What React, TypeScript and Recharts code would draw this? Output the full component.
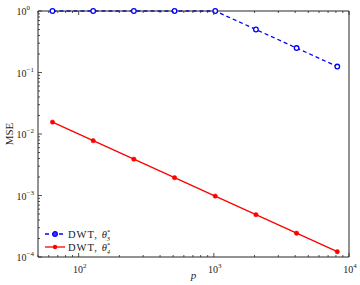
import React from "react";
import { LineChart, Line, XAxis, YAxis, Legend, Label } from "recharts";

const pValues = [64, 128, 256, 512, 1024, 2048, 4096, 8192];
const mseTheta3 = [1, 1, 1, 1, 1, 0.5, 0.25, 0.125];
const mseTheta4 = [0.0156, 0.0078, 0.0039, 0.00195, 0.000977, 0.000488, 0.000244, 0.000122];

const xMajorTicks = [100, 1000, 10000];
const xMinorTicks = [50, 60, 70, 80, 90, 200, 300, 400, 500, 600, 700, 800, 900, 2000, 3000, 4000, 5000, 6000, 7000, 8000, 9000];
const yMajorTicks = [0.0001, 0.001, 0.01, 0.1, 1];
const yMinorTicks = [
  0.0002, 0.0003, 0.0004, 0.0005, 0.0006, 0.0007, 0.0008, 0.0009,
  0.002, 0.003, 0.004, 0.005, 0.006, 0.007, 0.008, 0.009,
  0.02, 0.03, 0.04, 0.05, 0.06, 0.07, 0.08, 0.09,
  0.2, 0.3, 0.4, 0.5, 0.6, 0.7, 0.8, 0.9,
];

const data = pValues.map((p, i) => ({ p, theta3: mseTheta3[i], theta4: mseTheta4[i] }));

const FONT = "'Liberation Serif', 'DejaVu Serif', serif";
const AXIS = "#262626";
const BLUE = "#0000ff";
const RED = "#ff0000";

const allX = [...xMajorTicks, ...xMinorTicks].sort((a, b) => a - b);
const allY = [...yMajorTicks, ...yMinorTicks].sort((a, b) => a - b);

const expOf = (v: number) => Math.round(Math.log10(v));
const isMajor = (v: number) => Math.abs(Math.log10(v) - expOf(v)) < 1e-6;
const expText = (v: number) => {
  const e = expOf(v);
  return e < 0 ? "\u2212" + Math.abs(e) : String(e);
};

const MAJ = 4;
const MIN = 2;

const BottomTick = (props: any) => {
  const { x, y, payload } = props;
  const v = payload.value;
  const major = isMajor(v);
  return (
    <g>
      <line x1={x} y1={y} x2={x} y2={y - (major ? MAJ : MIN)} stroke={AXIS} strokeWidth={0.8} />
      {major && (
        <text x={x + 1} y={y + 16} textAnchor="middle" fontFamily={FONT} fontSize={10} fill="#222">
          10
          <tspan dy={-5} fontSize={7}>{expText(v)}</tspan>
        </text>
      )}
    </g>
  );
};

const TopTick = (props: any) => {
  const { x, y, payload } = props;
  const major = isMajor(payload.value);
  return <line x1={x} y1={y} x2={x} y2={y + (major ? MAJ : MIN)} stroke={AXIS} strokeWidth={0.8} />;
};

const LeftTick = (props: any) => {
  const { x, y, payload } = props;
  const v = payload.value;
  const major = isMajor(v);
  return (
    <g>
      <line x1={x} y1={y} x2={x + (major ? MAJ : MIN)} y2={y} stroke={AXIS} strokeWidth={0.8} />
      {major && (
        <text x={x - 21.5} y={y + 4} textAnchor="start" fontFamily={FONT} fontSize={10} fill="#222">
          10
          <tspan dy={-5} fontSize={7}>{expText(v)}</tspan>
        </text>
      )}
    </g>
  );
};

const RightTick = (props: any) => {
  const { x, y, payload } = props;
  const major = isMajor(payload.value);
  return <line x1={x} y1={y} x2={x - (major ? MAJ : MIN)} y2={y} stroke={AXIS} strokeWidth={0.8} />;
};

const seriesCfg: Record<string, { sub: string; dashed: boolean; color: string }> = {
  theta3: { sub: "3", dashed: true, color: BLUE },
  theta4: { sub: "4", dashed: false, color: RED },
};

const renderLegend = (props: any) => {
  const payload = props.payload || [];
  return (
    <svg width={90} height={28} style={{ display: "block" }}>
      {payload.map((entry: any, i: number) => {
        const cfg = seriesCfg[entry.dataKey] || seriesCfg.theta3;
        const cy = 6 + i * 13;
        return (
          <g key={i}>
            <line x1={1} y1={cy} x2={21} y2={cy} stroke={cfg.color} strokeWidth={1.3} strokeDasharray={cfg.dashed ? "4 3" : undefined} />
            {cfg.dashed ? (
              <circle cx={11} cy={cy} r={2.3} fill="#3b3bff" stroke={cfg.color} strokeWidth={1.3} />
            ) : (
              <circle cx={11} cy={cy} r={2.2} fill={cfg.color} />
            )}
            <text x={24} y={cy + 3.5} fontFamily={FONT} fontSize={10.5} fill="#222" letterSpacing={1}>
              DWT,
              <tspan dx={4} fontStyle="italic" letterSpacing={0}>θ</tspan>
              <tspan dy={-4} fontSize={6.5} letterSpacing={0}>*</tspan>
              <tspan dx={-3.5} dy={7} fontSize={6.5} fontStyle="italic" letterSpacing={0}>{cfg.sub}</tspan>
            </text>
          </g>
        );
      })}
    </svg>
  );
};

export default function App() {
  return (
    <div style={{ position: "absolute", left: 0, top: 0, width: 360, height: 285, background: "#fff" }}>
      <LineChart width={360} height={285} data={data} margin={{ top: 10, right: 10, bottom: 27, left: 37 }}>
        <XAxis
          xAxisId="bottom"
          dataKey="p"
          type="number"
          scale="log"
          domain={[50, 10000]}
          ticks={allX}
          interval={0}
          height={1}
          tickSize={0}
          tickMargin={0}
          tickLine={false}
          tick={<BottomTick />}
          axisLine={{ stroke: AXIS, strokeWidth: 1 }}
        >
          <Label
            content={(lp: any) => {
              const vb = lp.viewBox || {};
              return (
                <text x={vb.x + vb.width / 2} y={vb.y + 22} textAnchor="middle" fontFamily={FONT} fontSize={11} fontStyle="italic" fill="#222">
                  p
                </text>
              );
            }}
          />
        </XAxis>
        <XAxis
          xAxisId="top"
          orientation="top"
          dataKey="p"
          type="number"
          scale="log"
          domain={[50, 10000]}
          ticks={allX}
          interval={0}
          height={1}
          tickSize={0}
          tickMargin={0}
          tickLine={false}
          tick={<TopTick />}
          axisLine={{ stroke: AXIS, strokeWidth: 1 }}
        />
        <YAxis
          yAxisId="left"
          type="number"
          scale="log"
          domain={[0.0001, 1]}
          ticks={allY}
          interval={0}
          width={1}
          tickSize={0}
          tickMargin={0}
          tickLine={false}
          tick={<LeftTick />}
          axisLine={{ stroke: AXIS, strokeWidth: 1 }}
        >
          <Label
            content={(lp: any) => {
              const vb = lp.viewBox || {};
              const cx = 12.5;
              const cy = vb.y + vb.height / 2;
              return (
                <text x={cx} y={cy} transform={`rotate(-90 ${cx} ${cy})`} textAnchor="middle" fontFamily={FONT} fontSize={11} fill="#222">
                  MSE
                </text>
              );
            }}
          />
        </YAxis>
        <YAxis
          yAxisId="right"
          orientation="right"
          type="number"
          scale="log"
          domain={[0.0001, 1]}
          ticks={allY}
          interval={0}
          width={1}
          tickSize={0}
          tickMargin={0}
          tickLine={false}
          tick={<RightTick />}
          axisLine={{ stroke: AXIS, strokeWidth: 1 }}
        />
        <Legend
          layout="horizontal"
          verticalAlign="middle"
          align="center"
          content={renderLegend}
          wrapperStyle={{ position: "absolute", left: 44, top: 228, width: 90, height: 28 }}
        />
        <Line
          xAxisId="bottom"
          yAxisId="left"
          dataKey="theta3"
          name="theta3"
          stroke={BLUE}
          strokeWidth={1.3}
          strokeDasharray="4 3"
          dot={{ r: 2.3, fill: "#fff", stroke: BLUE, strokeWidth: 1.3, strokeDasharray: "0" }}
          isAnimationActive={false}
        />
        <Line
          xAxisId="bottom"
          yAxisId="left"
          dataKey="theta4"
          name="theta4"
          stroke={RED}
          strokeWidth={1.3}
          dot={{ r: 2.2, fill: RED, stroke: RED, strokeWidth: 0.5 }}
          isAnimationActive={false}
        />
      </LineChart>
    </div>
  );
}
